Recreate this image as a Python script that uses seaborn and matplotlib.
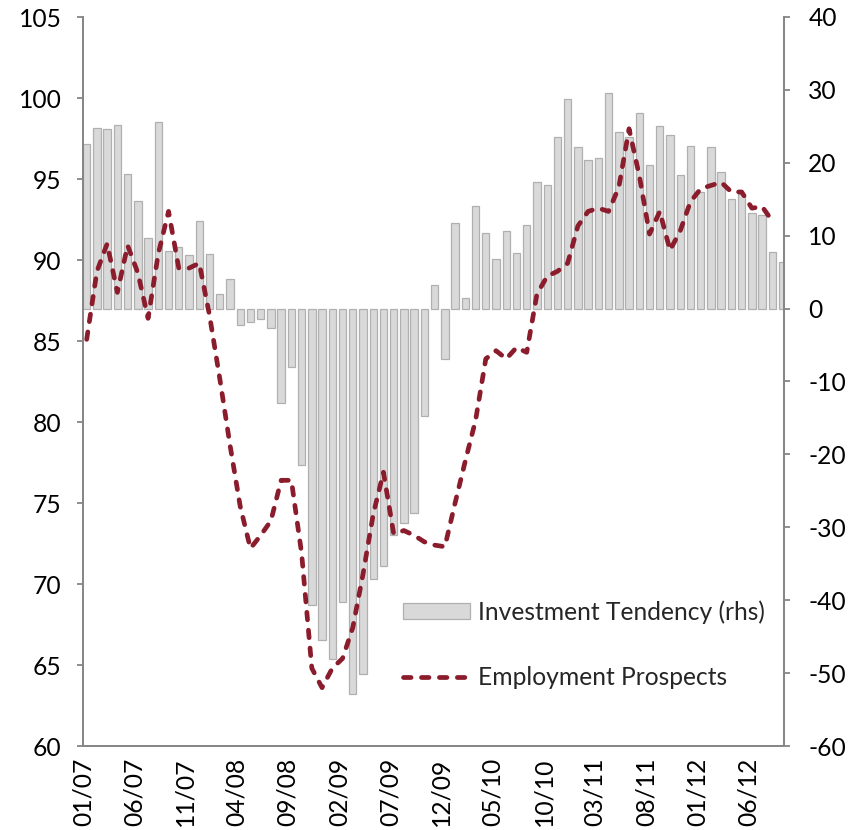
import matplotlib
matplotlib.use('Agg')
import matplotlib.pyplot as plt
from matplotlib.lines import Line2D
from matplotlib.patches import Patch
import numpy as np
import pandas as pd
import seaborn as sns

sns.set_theme(style='white')
plt.rcParams['font.family'] = ['Lato', 'DejaVu Sans']
plt.rcParams['axes.unicode_minus'] = False

months = pd.date_range('2007-01-01', periods=69, freq='MS').strftime('%m/%y').tolist()

investment = [
    22.6, 24.8, 24.7, 25.2, 18.5, 14.8, 9.7, 25.6, 7.9, 8.4,
    7.3, 12.0, 7.5, 2.0, 4.0, -2.3, -1.9, -1.4, -2.6, -12.9,
    -8.0, -21.4, -40.6, -45.5, -48.1, -40.2, -52.8, -50.1, -37.1, -35.3,
    -31.0, -29.4, -28.1, -14.8, 3.2, -6.9, 11.7, 1.5, 14.1, 10.4,
    6.8, 10.6, 7.6, 11.4, 17.4, 17.0, 23.5, 28.8, 22.1, 20.4,
    20.6, 29.6, 24.2, 23.5, 26.8, 19.7, 25.1, 23.8, 18.3, 22.3,
    16.0, 22.2, 18.7, 15.1, 15.7, 13.1, 12.8, 7.7, 6.4,
]

employment = [
    85.1, 89.3, 91.0, 88.0, 90.9, 89.2, 86.4, 90.4, 93.0, 89.5,
    89.5, 89.8, 86.6, 82.7, 78.6, 74.8, 72.2, 73.0, 73.9, 76.4,
    76.4, 71.9, 64.8, 63.6, 64.8, 65.4, 67.3, 70.6, 74.3, 76.9,
    73.1, 73.3, 73.0, 72.6, 72.4, 72.3, 75.0, 77.6, 80.1, 83.9,
    84.4, 83.9, 84.6, 84.3, 87.9, 89.0, 89.3, 89.8, 92.1, 93.0,
    93.2, 93.0, 94.5, 98.1, 95.2, 91.6, 93.0, 90.6, 91.8, 93.6,
    94.4, 94.6, 94.8, 94.2, 94.2, 93.2, 93.3, 92.4,
]

bar_df = pd.DataFrame({'month': months, 'investment': investment})
line_df = pd.DataFrame({'pos': np.arange(len(employment)), 'employment': employment})

bar_color = '#d9d9d9'
bar_edge = '#b0b0b0'
line_color = '#8b1c2c'
spine_color = '#868686'
fs = 17.7
dash = (0, (1.6, 2.2))
lw = 3.4

fig = plt.figure(figsize=(8.6, 8.3), dpi=100)
ax = fig.add_axes([83 / 860, 1 - 746 / 830, 701 / 860, 729 / 830])

sns.barplot(data=bar_df, x='month', y='investment', ax=ax, color=bar_color,
            edgecolor=bar_edge, linewidth=0.9, saturation=1, width=0.72)
ax.yaxis.tick_right()
ax.set_ylim(-60, 40)
ax.set_yticks(range(-60, 41, 10))
ax.set_ylabel('')
ax.set_xlabel('')

ax2 = ax.twinx()
sns.lineplot(data=line_df, x='pos', y='employment', ax=ax2, color=line_color,
             linewidth=lw, linestyle=dash, dash_capstyle='round')
ax2.yaxis.tick_left()
ax2.yaxis.set_label_position('left')
ax2.set_ylim(60, 105)
ax2.set_yticks(range(60, 106, 5))
ax2.set_ylabel('')
ax2.set_xlabel('')

off = 0.36
ax.set_xlim(-off, len(months) - off - 0.5)
tick_idx = list(range(0, len(months), 5))
ax.set_xticks([i - off for i in tick_idx])
ax.set_xticklabels([months[i] for i in tick_idx], rotation=90, fontsize=fs)

for a in (ax, ax2):
    for side in ('left', 'right', 'bottom'):
        a.spines[side].set_color(spine_color)
        a.spines[side].set_linewidth(1.3)
    a.spines['top'].set_visible(False)
    a.tick_params(axis='both', length=4.5, width=1.3, color=spine_color,
                  labelsize=fs, labelcolor='black', pad=5, direction='out')
    a.grid(False)
ax.tick_params(axis='y', left=False, right=True, labelleft=False, labelright=True, pad=13)
ax2.tick_params(axis='y', left=True, right=False, labelleft=True, labelright=False, pad=11)
ax.tick_params(axis='x', pad=4)

handles = [
    Patch(facecolor=bar_color, edgecolor=bar_edge, linewidth=0.9),
    Line2D([0], [0], color=line_color, linewidth=lw, linestyle=dash,
           dash_capstyle='round'),
]
ax2.legend(handles, ['Investment Tendency (rhs)', 'Employment Prospects'],
           loc='center left', bbox_to_anchor=(0.456, 0.139), frameon=False,
           fontsize=fs, handlelength=2.75, handleheight=0.62, handletextpad=0.33,
           labelspacing=1.7, borderpad=0, borderaxespad=0)

fig.savefig('out.png', dpi=100)
